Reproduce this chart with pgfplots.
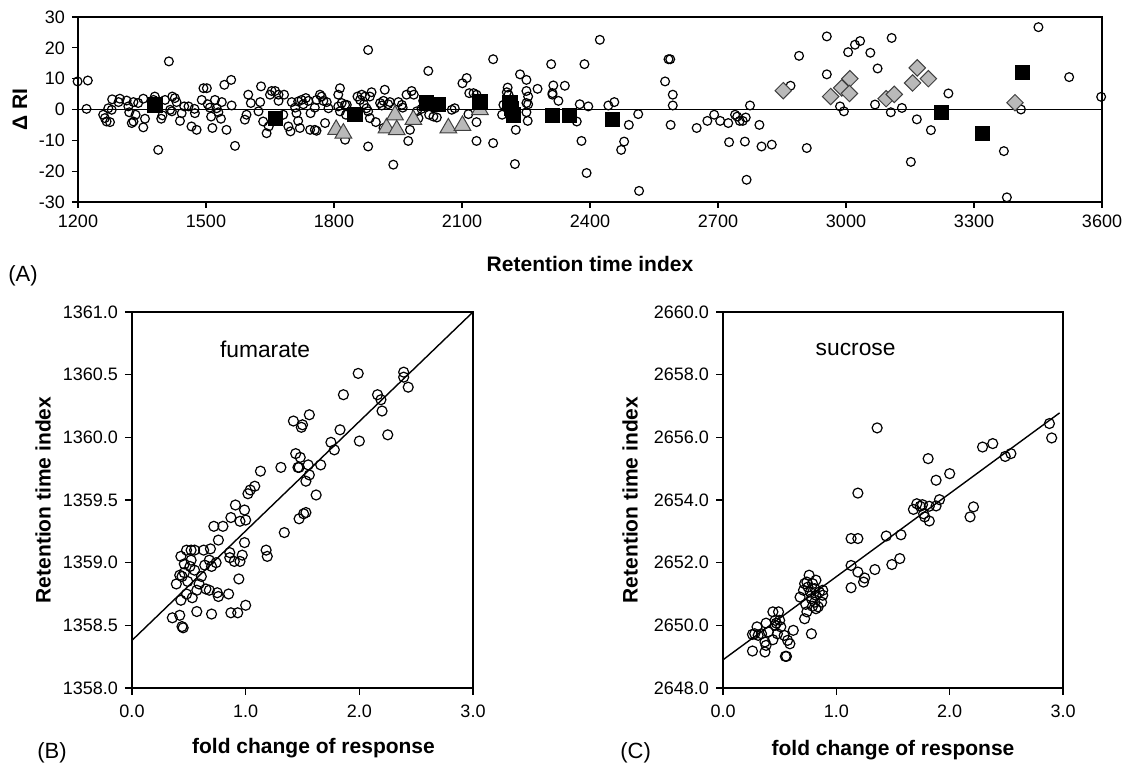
\documentclass[border=0pt]{standalone}
\usepackage{fontspec}
\setmainfont{Liberation Sans}
\usepackage{pgfplots}
\pgfplotsset{compat=1.18}
\definecolor{markgray}{RGB}{185,185,185}

\pgfplotsset{
  panel/.style={
    scale only axis, clip=false,
    axis line style={line width=0.9pt},
    tick align=outside, major tick length=3pt,
    xtick pos=bottom, ytick pos=left,
    tick style={black,line width=0.6pt},
    tick label style={font=\fontsize{9}{10}\selectfont},
    label style={font=\fontsize{10.5}{12}\selectfont\bfseries},
    /pgf/number format/assume math mode=true,
    /pgf/number format/1000 sep={},
  },
  onedec/.style={
    major tick length=3.5pt,
    xticklabel style={yshift=-1.5pt,/pgf/number format/.cd,fixed,fixed zerofill,precision=1},
    yticklabel style={/pgf/number format/.cd,fixed,fixed zerofill,precision=1},
  },
  circ/.style={only marks,mark=o,mark size=2.2pt,mark options={line width=0.6pt,black}},
}

\begin{document}
\begin{tikzpicture}
\useasboundingbox (0,0) rectangle (561.5pt,381.5pt);

% (A) deviation of retention index
\begin{axis}[panel, at={(39pt,280.5pt)}, anchor=south west,
  width=512pt, height=92.5pt,
  xmin=1200, xmax=3600, ymin=-30, ymax=30,
  xtick={1200,1500,...,3600}, ytick={-30,-20,...,30},
  xlabel={Retention time index}, ylabel={Δ RI},
  xlabel style={at={([yshift=-31pt]axis description cs:0.5,0)},anchor=center},
  ylabel style={at={([xshift=-29pt]axis description cs:0,0.5)},anchor=center}]
\addplot[black,line width=0.5pt] coordinates {(1200,0) (3600,0)};
\addplot[circ] coordinates {
(1199,9.1) (1223,9.4) (1220,0.2) (1413,15.6) (1388,-13.1) (1259,-1.7) (1263,-2.8) (1267,-3.9)
(1275,-4.1) (1271,0.4) (1279,-0.1) (1280,3.3) (1295,2.4) (1298,3.5) (1314,2.9) (1318,1.0)
(1320,-0.9) (1326,-4.4) (1330,-3.9) (1330,2.4) (1335,-1.7) (1341,2.1) (1353,3.5) (1353,-5.8)
(1357,-3.0) (1377,3.1) (1380,4.2) (1395,-3.0) (1398,-1.9) (1404,3.1) (1416,-0.1) (1421,4.2)
(1427,3.7) (1420,-0.6) (1431,2.4) (1439,-3.7) (1443,-1.2) (1449,1.0) (1459,1.0) (1473,0.2)
(1474,-1.2) (1466,-5.5) (1478,-6.6) (1490,3.1) (1494,6.9) (1502,6.9) (1504,1.7) (1509,0.6)
(1512,-2.3) (1515,-6.0) (1521,3.1) (1525,0.4) (1529,-0.9) (1537,2.4) (1535,-3.0) (1543,8.0)
(1548,-6.6) (1559,9.6) (1560,1.3) (1568,-11.8) (1591,-3.3) (1595,-1.7) (1599,4.8) (1605,2.1)
(1623,-0.6) (1627,2.4) (1629,7.5) (1634,-3.9) (1642,-7.7) (1647,-5.5) (1650,4.8) (1654,6.0)
(1662,6.0) (1670,4.8) (1683,4.8) (1670,2.8) (1681,-1.7) (1693,-5.5) (1698,-7.1) (1701,2.4)
(1709,0.6) (1712,-1.2) (1716,-3.7) (1720,-6.0) (1716,2.6) (1724,3.1) (1728,1.7) (1734,3.7)
(1740,2.8) (1745,-1.2) (1744,-6.6) (1755,-6.6) (1759,-6.9) (1755,0.6) (1759,3.1) (1767,4.8)
(1771,4.2) (1775,2.8) (1779,-4.4) (1783,2.4) (1787,0.4) (1814,6.9) (1810,4.8) (1810,1.0)
(1814,-0.6) (1818,2.1) (1826,1.5) (1828,-1.7) (1830,1.5) (1826,-9.8) (1855,4.2) (1861,3.1)
(1865,4.8) (1870,1.7) (1873,4.2) (1876,0.4) (1880,-0.6) (1880,19.3) (1884,4.2) (1888,5.6)
(1884,-2.8) (1898,-4.1) (1880,-12.0) (1908,2.1) (1912,1.3) (1916,2.8) (1919,6.4) (1916,-6.0)
(1927,1.7) (1931,2.4) (1939,-17.9) (1951,2.4) (1959,1.5) (1961,0.6) (1970,4.8) (1978,-6.6)
(1982,6.0) (1987,4.8) (1974,-10.2) (1994,-0.6) (1998,-2.8) (2005,0.2) (2009,2.8) (2021,12.5)
(2023,-1.7) (2033,-2.3) (2041,-2.6) (2076,-0.1) (2083,0.4) (2101,8.5) (2111,10.2) (2117,5.3)
(2127,5.3) (2134,4.8) (2134,-4.1) (2134,-10.2) (2115,-1.5) (2173,16.3) (2173,-10.9) (2197,1.5)
(2194,-1.7) (2207,7.1) (2205,5.6) (2209,4.8) (2224,-17.7) (2226,-6.6) (2236,11.4) (2251,9.6)
(2251,6.0) (2255,4.2) (2251,2.1) (2255,1.7) (2251,-0.9) (2254,-3.7) (2277,6.7) (2309,14.7)
(2314,7.8) (2312,5.3) (2312,4.8) (2326,2.8) (2341,7.7) (2369,-3.9) (2376,1.7) (2396,1.0)
(2387,14.7) (2380,-10.2) (2392,-20.6) (2423,22.6) (2443,1.3) (2457,2.4) (2480,-10.4) (2473,-13.1)
(2491,-5.0) (2513,-1.5) (2515,-26.4) (2584,16.3) (2588,16.3) (2576,9.1) (2594,4.8) (2594,1.3)
(2589,-5.0) (2650,-6.0) (2675,-3.7) (2691,-1.7) (2705,-3.7) (2724,-4.4) (2726,-10.6) (2740,-1.7)
(2745,-2.3) (2751,-3.7) (2758,-3.7) (2765,-2.6) (2763,-10.4) (2767,-22.8) (2775,1.3) (2797,-5.0)
(2802,-12.0) (2826,-11.4) (2870,7.7) (2890,17.4) (2908,-12.5) (2955,23.7) (2955,11.4) (2986,1.0)
(2995,-0.6) (3005,18.6) (3021,21.0) (3033,22.2) (3057,18.4) (3107,23.2) (3074,13.3) (3068,1.6)
(3105,-0.9) (3131,0.5) (3166,-3.2) (3152,-17.0) (3199,-6.7) (3240,5.2) (3370,-13.5) (3377,-28.5)
(3410,0.0) (3451,26.7) (3523,10.5) (3598,4.1)
};
\addplot[only marks,mark=triangle*,mark size=4.8pt,
  mark options={fill=markgray,draw=black!75,line width=0.5pt}] coordinates {
(1805,-6.5) (1822,-7.7) (1923,-6.0) (1943,-1.8) (1947,-6.6) (1986,-3.3) (2068,-6.0) (2101,-5.2) (2142,-0.1)
};
\addplot[only marks,mark=square*,mark size=2.9pt,
  mark options={rotate=45,fill=markgray,draw=black!75,line width=0.5pt}] coordinates {
(2853,6.1) (2964,4.2) (2990,7.0) (3009,10.0) (3008,5.2) (3094,3.5) (3113,4.9) (3156,8.6) (3167,13.5) (3193,10.0) (3396,2.2)
};
\addplot[only marks,mark=square*,mark size=3.6pt,mark options={black}] coordinates {
(1380,1.5) (1662,-2.8) (1849,-1.5) (2017,2.1) (2044,1.7) (2142,2.4) (2212,2.1) (2216,0.4)
(2220,-1.7) (2312,-1.9) (2351,-1.9) (2452,-3.3) (3224,-0.9) (3320,-7.8) (3414,12.1)
};
\end{axis}

% (B) fumarate
\begin{axis}[panel, onedec, at={(66pt,37.5pt)}, anchor=south west,
  width=170.5pt, height=188pt,
  xmin=0, xmax=3, ymin=1358, ymax=1361,
  xtick={0,1,2,3}, ytick={1358,1358.5,...,1361},
  xlabel={fold change of response}, ylabel={Retention time index},
  xlabel style={at={([xshift=5.5pt,yshift=-30pt]axis description cs:0.5,0)},anchor=center},
  ylabel style={at={([xshift=-44.5pt]axis description cs:0,0.5)},anchor=center}]
\addplot[black,line width=0.7pt] coordinates {(0,1358.38) (3,1361)};
\addplot[circ,mark size=2.5pt] coordinates {
(0.355,1358.56) (0.39,1358.83) (0.42,1358.58) (0.43,1359.05) (0.42,1358.90) (0.43,1358.70)
(0.44,1358.49) (0.45,1358.48) (0.44,1358.89) (0.46,1358.99) (0.46,1358.92) (0.48,1359.10)
(0.48,1358.75) (0.49,1358.85) (0.51,1358.97) (0.52,1359.02) (0.53,1358.72) (0.52,1359.10)
(0.55,1359.10) (0.55,1358.94) (0.57,1358.61) (0.57,1358.78) (0.59,1358.83) (0.61,1358.89)
(0.63,1359.10) (0.64,1358.98) (0.65,1358.79) (0.68,1358.78) (0.69,1359.11) (0.68,1359.02)
(0.70,1358.97) (0.70,1358.59) (0.72,1359.29) (0.74,1359.00) (0.75,1358.76) (0.76,1358.73)
(0.76,1359.18) (0.80,1359.29) (0.85,1358.75) (0.86,1359.08) (0.86,1359.04) (0.87,1359.36)
(0.87,1358.60) (0.90,1359.01) (0.91,1359.46) (0.93,1358.60) (0.94,1358.87) (0.95,1359.33)
(0.95,1359.01) (0.97,1359.06) (0.99,1359.42) (0.99,1359.16) (1.00,1358.66) (1.00,1359.34)
(1.02,1359.55) (1.04,1359.58) (1.08,1359.61) (1.13,1359.73) (1.18,1359.10) (1.19,1359.05)
(1.31,1359.76) (1.34,1359.24) (1.42,1360.13) (1.44,1359.87) (1.46,1359.76) (1.47,1359.76)
(1.47,1359.35) (1.49,1360.08) (1.50,1360.10) (1.48,1359.84) (1.51,1359.39) (1.53,1359.40)
(1.53,1359.65) (1.55,1359.78) (1.56,1359.70) (1.56,1360.18) (1.62,1359.54) (1.66,1359.78)
(1.75,1359.96) (1.78,1359.90) (1.83,1360.06) (1.86,1360.34) (1.99,1360.51) (2.00,1359.97)
(2.16,1360.34) (2.19,1360.30) (2.20,1360.21) (2.25,1360.02) (2.39,1360.52) (2.39,1360.48)
(2.43,1360.40)
};
\node[font=\fontsize{11.4}{13}\selectfont] at (axis cs:1.17,1360.7) {fumarate};
\end{axis}

% (C) sucrose
\begin{axis}[panel, onedec, at={(361.5pt,37.5pt)}, anchor=south west,
  width=170pt, height=188pt,
  xmin=0, xmax=3, ymin=2648, ymax=2660,
  xtick={0,1,2,3}, ytick={2648,2650,...,2660},
  xlabel={fold change of response}, ylabel={Retention time index},
  xlabel style={at={([yshift=-31pt]axis description cs:0.5,0)},anchor=center},
  ylabel style={at={([xshift=-46.5pt]axis description cs:0,0.5)},anchor=center}]
\addplot[black,line width=0.7pt] coordinates {(0,2648.9) (2.97,2656.78)};
\addplot[circ,mark size=2.5pt] coordinates {
(0.26,2649.71) (0.26,2649.18) (0.28,2649.73) (0.30,2649.95) (0.31,2649.68) (0.34,2649.73)
(0.37,2649.47) (0.37,2649.15) (0.38,2649.36) (0.38,2650.07) (0.40,2649.79) (0.44,2650.43)
(0.44,2649.54) (0.46,2650.16) (0.46,2650.00) (0.47,2650.07) (0.48,2649.73) (0.49,2650.43)
(0.50,2650.16) (0.51,2649.95) (0.54,2649.68) (0.55,2649.01) (0.56,2649.01) (0.57,2649.52)
(0.59,2649.41) (0.62,2649.84) (0.68,2650.90) (0.72,2650.21) (0.71,2651.12) (0.72,2651.33)
(0.73,2650.67) (0.74,2650.43) (0.74,2651.38) (0.75,2651.22) (0.76,2651.60) (0.77,2651.06)
(0.78,2649.73) (0.78,2650.85) (0.79,2651.33) (0.81,2650.74) (0.81,2651.17) (0.82,2650.96)
(0.82,2651.44) (0.84,2650.59) (0.85,2651.06) (0.87,2650.74) (0.88,2651.12) (0.88,2650.96)
(0.82,2650.53) (0.79,2650.61) (1.13,2652.77) (1.13,2651.20) (1.13,2651.91) (1.19,2652.77)
(1.19,2654.22) (1.19,2651.70) (1.24,2651.38) (1.25,2651.51) (1.34,2651.78) (1.36,2656.30)
(1.44,2652.85) (1.49,2651.94) (1.56,2652.13) (1.57,2652.89) (1.68,2653.70) (1.71,2653.88)
(1.74,2653.80) (1.76,2653.85) (1.77,2653.56) (1.78,2653.46) (1.81,2655.32) (1.82,2653.80)
(1.82,2653.33) (1.88,2653.81) (1.88,2654.63) (1.91,2654.01) (2.00,2654.84) (2.18,2653.46)
(2.21,2653.78) (2.29,2655.69) (2.38,2655.80) (2.49,2655.39) (2.54,2655.48) (2.88,2656.44)
(2.90,2655.98)
};
\node[font=\fontsize{11.4}{13}\selectfont] at (axis cs:1.17,2658.8) {sucrose};
\end{axis}

\node[anchor=west,font=\fontsize{11}{13}\selectfont,inner sep=0pt] at (4pt,243.5pt) {(A)};
\node[anchor=west,font=\fontsize{11}{13}\selectfont,inner sep=0pt] at (18.5pt,5pt) {(B)};
\node[anchor=west,font=\fontsize{11}{13}\selectfont,inner sep=0pt] at (310pt,5pt) {(C)};
\end{tikzpicture}
\end{document}
